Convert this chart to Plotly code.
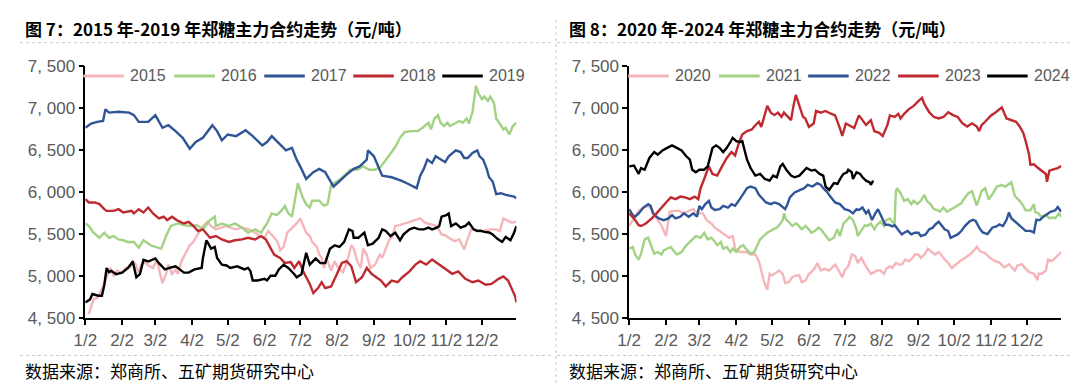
import plotly.graph_objects as go

YEAR = "2021"

# ---------------- Left panel: 2015-2019 ----------------
d2015 = ["01-05","01-07","01-09","01-12","01-14","01-17","01-19","01-21","01-23","01-26","01-29","02-02","02-05","02-09","02-11","02-13","02-16","02-18","02-21","02-24","02-28","03-03","03-05","03-08","03-11","03-13","03-16","03-19","03-21","03-24","03-28","03-31","04-03","04-05","04-08","04-11","04-15","04-18","04-22","04-26","04-30","05-04","05-09","05-14","05-20","05-25","05-29","06-02","06-05","06-09","06-13","06-15","06-18","06-21","06-25","06-29","07-02","07-04","07-07","07-10","07-12","07-16","07-18","07-20","07-22","07-24","07-28","07-31","08-03","08-07","08-10","08-12","08-14","08-16","08-19","08-22","08-24","08-27","08-30","09-03","09-07","09-09","09-12","09-15","09-17","09-20","09-24","09-28","10-02","10-06","10-11","10-15","10-20","10-25","10-29","11-01","11-05","11-09","11-13","11-17","11-20","11-23","11-27","12-01","12-05","12-09","12-14","12-17","12-20","12-24","12-27","12-31"]
v2015 = [4550,4650,4730,4740,4790,4880,4950,5030,5100,5010,5070,5040,5100,5110,5180,5150,5040,5140,5170,5130,5100,5200,5080,4920,5030,5140,5030,5080,5030,5180,5290,5370,5410,5460,5520,5600,5650,5600,5560,5580,5600,5580,5560,5580,5560,5520,5480,5460,5540,5480,5410,5310,5350,5520,5580,5630,5690,5630,5520,5480,5410,5350,5260,5220,5100,5220,5070,5180,5100,5050,5160,5260,5370,5330,5180,5100,5330,5260,5100,5140,5260,5220,5330,5440,5460,5600,5610,5630,5650,5670,5690,5640,5620,5600,5500,5490,5450,5420,5440,5320,5450,5560,5560,5530,5550,5560,5560,5540,5690,5660,5640,5650]

d2016 = ["01-02","01-05","01-09","01-14","01-18","01-22","01-26","01-30","02-03","02-07","02-12","02-16","02-20","02-26","03-02","03-07","03-11","03-15","03-21","03-26","04-01","04-06","04-11","04-17","04-21","04-22","04-27","05-03","05-08","05-14","05-19","05-25","05-30","06-04","06-08","06-12","06-16","06-19","06-22","06-25","06-30","07-04","07-07","07-10","07-12","07-18","07-22","07-25","07-28","08-03","08-08","08-13","08-19","08-24","08-29","09-03","09-08","09-12","09-16","09-20","09-24","09-28","10-04","10-09","10-13","10-18","10-20","10-23","10-26","10-28","10-31","11-03","11-05","11-08","11-11","11-13","11-16","11-19","11-21","11-24","11-27","11-29","12-02","12-04","12-07","12-09","12-12","12-14","12-17","12-20","12-22","12-25","12-28","12-31"]
v2016 = [5630,5600,5520,5460,5520,5460,5480,5440,5430,5410,5410,5340,5430,5370,5350,5330,5480,5600,5630,5610,5600,5610,5560,5670,5710,5600,5630,5600,5630,5580,5520,5560,5520,5630,5750,5730,5780,5840,5750,5710,6110,5940,5860,5820,5900,5900,5840,5860,6090,6140,6200,6270,6270,6310,6270,6270,6310,6390,6460,6540,6650,6720,6730,6730,6770,6830,6750,6880,6920,6830,6790,6830,6790,6810,6830,6850,6830,6880,6820,6960,7270,7180,7110,7140,7090,7140,7070,6880,6820,6750,6770,6690,6790,6830]

d2017 = ["01-02","01-07","01-12","01-17","01-19","01-22","01-30","02-08","02-12","02-16","02-24","03-02","03-08","03-13","03-19","03-25","03-31","04-05","04-11","04-15","04-19","04-23","04-27","05-02","05-09","05-17","05-23","05-31","06-04","06-08","06-14","06-20","06-25","06-29","07-03","07-07","07-13","07-18","07-23","07-30","08-03","08-09","08-16","08-21","08-27","08-28","09-02","09-06","09-09","09-17","09-25","10-01","10-08","10-11","10-14","10-17","10-21","10-24","10-27","11-01","11-04","11-07","11-10","11-14","11-17","11-20","11-24","11-28","11-30","12-03","12-06","12-08","12-11","12-14","12-18","12-22","12-26","12-29","12-31"]
v2017 = [6770,6820,6840,6850,6990,6950,6960,6950,6920,6840,6840,6920,6770,6800,6730,6650,6520,6600,6650,6730,6800,6730,6620,6690,6670,6740,6670,6560,6600,6670,6580,6500,6530,6390,6280,6160,6240,6280,6240,6070,6120,6200,6280,6310,6390,6500,6430,6310,6200,6180,6140,6100,6050,6200,6280,6390,6350,6430,6400,6360,6430,6460,6500,6480,6410,6410,6470,6500,6430,6390,6280,6180,6130,5980,5990,5970,5960,5950,5930]

d2018 = ["01-02","01-05","01-10","01-14","01-18","01-20","01-26","01-30","02-03","02-10","02-12","02-16","02-20","02-24","02-28","03-05","03-09","03-12","03-16","03-20","03-26","03-30","04-03","04-07","04-11","04-17","04-22","04-27","05-03","05-08","05-14","05-19","05-25","05-30","06-03","06-07","06-10","06-15","06-19","06-24","06-27","07-01","07-05","07-10","07-13","07-17","07-20","07-23","07-28","08-02","08-06","08-10","08-14","08-18","08-23","08-27","08-31","09-04","09-08","09-12","09-17","09-22","09-26","10-02","10-07","10-11","10-16","10-21","10-27","11-01","11-07","11-12","11-18","11-24","11-29","12-05","12-10","12-16","12-20","12-24","12-27","12-30","12-31"]
v2018 = [5920,5880,5880,5860,5800,5780,5780,5800,5760,5780,5750,5800,5760,5820,5750,5690,5710,5670,5710,5670,5630,5650,5600,5540,5560,5460,5480,5440,5410,5430,5440,5460,5440,5480,5440,5330,5260,5220,5160,5170,5100,5180,5045,4910,4800,4860,4930,4860,4880,5030,5160,5180,5120,4930,4990,5100,5030,4990,4950,4880,4950,4930,4990,5060,5140,5180,5140,5200,5140,5080,5030,5060,4970,4930,4950,4900,4910,4970,5000,4950,4860,4760,4690]

d2019 = ["01-02","01-06","01-08","01-13","01-16","01-18","01-20","01-22","01-24","01-28","02-02","02-07","02-11","02-14","02-17","02-20","02-24","03-02","03-05","03-10","03-14","03-19","03-21","03-26","03-30","04-04","04-10","04-11","04-14","04-18","04-21","04-23","04-27","05-01","05-04","05-10","05-16","05-19","05-21","05-23","05-27","06-02","06-04","06-07","06-11","06-14","06-18","06-22","06-27","06-29","07-03","07-05","07-07","07-10","07-15","07-19","07-23","07-27","07-31","08-04","08-08","08-12","08-15","08-16","08-20","08-25","08-28","09-01","09-04","09-06","09-09","09-12","09-16","09-20","09-24","09-27","10-02","10-06","10-10","10-14","10-18","10-21","10-25","10-27","10-29","11-02","11-04","11-06","11-10","11-14","11-18","11-21","11-25","11-28","12-01","12-04","12-08","12-11","12-15","12-19","12-22","12-26","12-29","12-31"]
v2019 = [4690,4725,4790,4770,4770,4895,5100,5050,5064,5026,5045,5100,5177,4990,5026,5196,5177,5214,5158,5083,5101,5120,5101,5045,5045,5083,5101,5214,5430,5330,5350,5220,5140,5130,5101,5120,5083,5101,5064,4951,4951,4970,4951,5008,5008,5083,5139,5101,5026,4989,5026,5139,5280,5139,5214,5158,5158,5330,5370,5350,5410,5560,5540,5460,5460,5520,5370,5390,5430,5460,5560,5540,5480,5520,5430,5500,5560,5580,5560,5560,5580,5560,5580,5600,5711,5730,5749,5598,5630,5580,5600,5640,5560,5540,5545,5530,5523,5500,5447,5410,5470,5430,5520,5598]

# ---------------- Right panel: 2020-2024 ----------------
d2020 = ["01-02","01-06","01-10","01-14","01-18","01-21","01-25","01-29","02-02","02-05","02-09","02-13","02-17","02-21","02-25","03-01","03-05","03-08","03-12","03-15","03-19","03-23","03-27","03-30","04-01","04-05","04-10","04-14","04-18","04-21","04-23","04-25","04-28","04-30","05-02","05-06","05-08","05-11","05-13","05-16","05-19","05-22","05-25","05-27","05-30","06-02","06-04","06-07","06-09","06-12","06-15","06-19","06-24","06-27","06-30","07-02","07-05","07-08","07-11","07-13","07-16","07-19","07-21","07-24","07-27","07-29","08-01","08-04","08-06","08-09","08-11","08-14","08-17","08-19","08-22","08-25","08-28","08-30","09-02","09-04","09-07","09-10","09-13","09-16","09-19","09-21","09-24","09-27","09-30","10-03","10-07","10-11","10-15","10-19","10-21","10-24","10-28","11-01","11-05","11-09","11-13","11-17","11-22","11-24","11-28","11-30","12-04","12-08","12-11","12-12","12-15","12-18","12-20","12-23","12-26","12-28","12-31"]
v2020 = [5600,5690,5780,5820,5840,5800,5690,5610,5480,5770,5780,5780,5750,5780,5800,5750,5750,5670,5630,5580,5540,5500,5460,5480,5330,5290,5290,5260,5260,5180,5070,4950,4840,5030,5010,5050,5070,5030,4920,4930,4990,5010,5010,4930,4950,5030,5050,5100,5160,5070,5090,5070,5140,5070,4990,5070,5120,5260,5240,5160,5220,5140,5090,5030,5050,5070,5070,5030,5090,5120,5100,5160,5140,5140,5200,5180,5220,5260,5260,5220,5260,5330,5290,5260,5290,5260,5200,5160,5100,5140,5183,5220,5260,5315,5353,5296,5277,5221,5183,5164,5107,5145,5070,5126,5145,5107,5051,5032,4956,5032,5032,5070,5202,5183,5221,5258,5290]

d2021 = ["01-02","01-05","01-07","01-10","01-12","01-15","01-18","01-21","01-23","01-26","01-29","01-31","02-03","02-06","02-08","02-11","02-15","02-19","02-22","02-24","02-27","03-03","03-06","03-09","03-12","03-14","03-17","03-20","03-22","03-25","03-28","03-30","04-02","04-05","04-08","04-10","04-14","04-17","04-20","04-22","04-25","04-28","05-03","05-06","05-08","05-11","05-12","05-14","05-16","05-19","05-22","05-24","05-27","05-30","06-02","06-04","06-07","06-10","06-12","06-16","06-19","06-23","06-26","06-28","07-01","07-04","07-06","07-09","07-12","07-13","07-16","07-19","07-21","07-24","07-27","07-29","08-01","08-04","08-06","08-09","08-11","08-13","08-14","08-15","08-18","08-21","08-24","08-27","08-29","09-01","09-04","09-07","09-09","09-12","09-15","09-18","09-20","09-23","09-26","09-30","10-04","10-08","10-11","10-14","10-17","10-21","10-25","10-28","10-31","11-03","11-07","11-11","11-14","11-17","11-19","11-22","11-26","11-29","12-01","12-05","12-08","12-09","12-12","12-14","12-18","12-21","12-24","12-26","12-29","12-31"]
v2021 = [5330,5350,5260,5200,5270,5440,5460,5330,5270,5290,5260,5310,5330,5350,5310,5260,5290,5370,5410,5440,5480,5460,5520,5440,5460,5430,5370,5410,5330,5350,5290,5330,5290,5350,5370,5330,5270,5290,5370,5440,5480,5520,5560,5580,5610,5670,5750,5670,5650,5600,5630,5610,5560,5600,5560,5520,5540,5580,5560,5480,5430,5460,5560,5480,5630,5670,5710,5670,5560,5480,5540,5610,5600,5630,5560,5610,5650,5600,5670,5690,5650,5630,6010,6050,5990,5900,5920,5860,5900,5860,5900,5970,5900,5860,5800,5790,5770,5820,5770,5800,5840,5870,5937,5990,6013,5843,6013,6050,5918,5975,6069,6088,6070,6100,6120,5956,5899,5843,5786,5786,5862,5768,5749,5711,5730,5693,5700,5693,5749,5711]

d2022 = ["01-02","01-05","01-07","01-10","01-14","01-18","01-20","01-22","01-25","01-27","01-31","02-04","02-07","02-10","02-14","02-17","02-21","02-25","02-28","03-02","03-04","03-07","03-10","03-12","03-15","03-19","03-22","03-26","03-29","04-01","04-04","04-07","04-11","04-14","04-18","04-21","04-23","04-27","05-01","05-04","05-08","05-12","05-13","05-15","05-17","05-21","05-25","05-29","06-01","06-05","06-09","06-12","06-14","06-17","06-20","06-24","06-28","07-02","07-06","07-09","07-12","07-14","07-17","07-20","07-22","07-25","07-27","07-30","08-02","08-05","08-08","08-11","08-13","08-16","08-19","08-21","08-24","08-27","08-30","09-02","09-04","09-08","09-11","09-14","09-16","09-19","09-21","09-24","09-27","09-29","10-02","10-05","10-08","10-11","10-15","10-18","10-20","10-23","10-26","10-30","11-03","11-07","11-09","11-12","11-15","11-17","11-19","11-22","11-25","11-29","12-01","12-05","12-08","12-10","12-13","12-16","12-20","12-22","12-26","12-28","12-31"]
v2022 = [5800,5730,5710,5750,5820,5860,5840,5750,5710,5690,5670,5690,5730,5690,5710,5750,5710,5750,5710,5840,5800,5860,5900,5820,5790,5800,5840,5820,5860,5840,5900,5970,6050,6070,6050,5970,5940,5880,5860,5880,5860,5820,5800,5860,5940,6000,6030,6050,6090,6070,6110,6090,6050,6010,5950,5880,5860,5800,5784,5750,5800,5790,5820,5750,5784,5670,5730,5800,5710,5615,5615,5595,5610,5560,5500,5520,5540,5500,5520,5520,5480,5500,5560,5580,5615,5650,5615,5560,5540,5460,5480,5500,5540,5598,5655,5674,5660,5580,5523,5504,5580,5598,5620,5600,5674,5760,5693,5655,5617,5560,5542,5542,5523,5674,5670,5711,5749,5768,5787,5825,5768]

d2023 = ["01-02","01-06","01-10","01-12","01-16","01-21","01-25","01-29","02-02","02-06","02-10","02-14","02-18","02-22","02-26","03-01","03-03","03-06","03-10","03-13","03-17","03-21","03-25","03-29","04-01","04-04","04-07","04-11","04-15","04-18","04-21","04-23","04-26","04-28","05-01","05-04","05-07","05-10","05-12","05-15","05-18","05-20","05-22","05-25","05-28","05-30","06-02","06-06","06-08","06-12","06-16","06-20","06-24","06-28","06-30","07-03","07-07","07-10","07-14","07-16","07-20","07-24","07-27","07-31","08-03","08-07","08-09","08-13","08-16","08-18","08-21","08-25","08-29","09-02","09-05","09-07","09-11","09-15","09-19","09-23","09-27","10-01","10-05","10-09","10-13","10-17","10-21","10-23","10-25","10-28","10-31","11-02","11-06","11-09","11-11","11-15","11-19","11-23","11-26","11-29","12-01","12-04","12-05","12-08","12-11","12-15","12-18","12-19","12-21","12-25","12-28","12-31"]
v2023 = [5750,5690,5610,5600,5630,5690,5750,5820,5880,5940,5920,5950,5940,5920,5950,5920,6050,6160,6310,6220,6200,6310,6410,6480,6440,6580,6690,6730,6750,6800,6840,6780,6920,7030,6950,6920,6950,6900,6950,6900,6860,7030,7160,7030,6900,6880,6780,6820,6970,6950,6970,6940,6917,6766,6672,6820,6785,6766,6917,6880,6804,6860,6728,6710,6672,6804,6917,6900,6936,6880,6936,6992,7030,7087,7125,7050,6955,6898,6880,6898,6955,6920,6898,6822,6785,6822,6785,6730,6800,6841,6880,6917,6955,6992,7013,6880,6860,6841,6785,6710,6615,6445,6330,6334,6296,6258,6220,6126,6258,6277,6290,6315]

d2024 = ["01-02","01-06","01-08","01-10","01-12","01-15","01-19","01-23","01-26","01-30","02-03","02-07","02-11","02-15","02-19","02-22","02-24","02-27","03-02","03-06","03-09","03-11","03-13","03-16","03-19","03-22","03-25","03-28","03-30","04-02","04-05","04-07","04-09","04-11","04-14","04-18","04-22","04-26","04-30","05-03","05-06","05-09","05-11","05-14","05-18","05-21","05-25","05-28","05-31","06-04","06-07","06-11","06-14","06-16","06-19","06-23","06-26","06-29","07-01","07-04","07-05","07-08","07-09","07-12","07-15","07-17","07-20","07-23","07-24","07-26"]
v2024 = [6310,6320,6270,6220,6290,6270,6410,6480,6450,6500,6530,6560,6530,6500,6430,6390,6270,6240,6270,6270,6310,6430,6530,6560,6530,6480,6530,6600,6650,6610,6600,6610,6500,6390,6290,6200,6220,6160,6140,6200,6180,6310,6340,6270,6200,6180,6200,6240,6290,6260,6270,6220,6200,6070,6030,6110,6100,6180,6220,6240,6270,6240,6160,6240,6220,6180,6140,6120,6090,6140]

# ---------------- Axis labels / legend ----------------
tick_dates = ["01-02","02-02","03-02","04-02","05-02","06-02","07-02","08-02","09-02","10-02","11-02","12-02"]
tick_labels = ["1/2","2/2","3/2","4/2","5/2","6/2","7/2","8/2","9/2","10/2","11/2","12/2"]
y_ticks = [4500, 5000, 5500, 6000, 6500, 7000, 7500]
y_labels = ["4, 500", "5, 000", "5, 500", "6, 000", "6, 500", "7, 000", "7, 500"]

left_names = ["2015", "2016", "2017", "2018", "2019"]
right_names = ["2020", "2021", "2022", "2023", "2024"]
colors = ["#F4B6BA", "#A2D283", "#2F5597", "#BE2A30", "#000000"]

title_left = "图 7：2015 年-2019 年郑糖主力合约走势（元/吨）"
title_right = "图 8：2020 年-2024 年郑糖主力合约走势（元/吨）"
source_text = "数据来源：郑商所、五矿期货研究中心"

W, H = 1080, 385


def dt(lst):
    return [f"{YEAR}-{s}" for s in lst]


left_series = [(d2015, v2015), (d2016, v2016), (d2017, v2017), (d2018, v2018), (d2019, v2019)]
right_series = [(d2020, v2020), (d2021, v2021), (d2022, v2022), (d2023, v2023), (d2024, v2024)]

fig = go.Figure()
for (dd, vv), name, c in zip(left_series, left_names, colors):
    fig.add_trace(go.Scatter(x=dt(dd), y=vv, name=name, mode="lines",
                             line=dict(color=c, width=2.4), xaxis="x", yaxis="y",
                             showlegend=False, hoverinfo="skip"))
for (dd, vv), name, c in zip(right_series, right_names, colors):
    fig.add_trace(go.Scatter(x=dt(dd), y=vv, name=name, mode="lines",
                             line=dict(color=c, width=2.4), xaxis="x2", yaxis="y2",
                             showlegend=False, hoverinfo="skip"))

tickfont = dict(family="Liberation Sans, Noto Sans CJK SC, sans-serif", size=17, color="#595959")
xcommon = dict(type="date", range=[f"{YEAR}-01-02", f"{YEAR}-12-31"],
               tickmode="array", tickvals=dt(tick_dates), ticktext=tick_labels,
               showline=True, linecolor="black", linewidth=1.5,
               ticks="outside", ticklen=5, tickwidth=1.5, tickcolor="black",
               showgrid=False, zeroline=False, tickfont=tickfont, fixedrange=True)
ycommon = dict(range=[4500, 7500], tickmode="array", tickvals=y_ticks, ticktext=y_labels,
               showline=True, linecolor="black", linewidth=1.5,
               ticks="outside", ticklen=5, tickwidth=1.5, tickcolor="black",
               showgrid=False, zeroline=False, tickfont=tickfont, fixedrange=True)

ydom = [1 - 317 / H, 1 - 52 / H]
fig.update_layout(
    width=W, height=H,
    margin=dict(l=0, r=0, t=0, b=0),
    paper_bgcolor="white", plot_bgcolor="white",
    xaxis=dict(domain=[66 / W, 502 / W], anchor="y", **xcommon),
    yaxis=dict(domain=ydom, anchor="x", **ycommon),
    xaxis2=dict(domain=[616 / W, 1053 / W], anchor="y2", **xcommon),
    yaxis2=dict(domain=ydom, anchor="x2", **ycommon),
    showlegend=False,
)

shapes = []
annotations = []
sep = dict(color="#C8C8C8", width=1, dash="dot")
shapes.append(dict(type="line", xref="paper", yref="paper", x0=0, x1=540 / W, y0=1 - 27 / H, y1=1 - 27 / H, line=sep))
shapes.append(dict(type="line", xref="paper", yref="paper", x0=543 / W, x1=1, y0=1 - 27 / H, y1=1 - 27 / H, line=sep))
shapes.append(dict(type="line", xref="paper", yref="paper", x0=0, x1=540 / W, y0=1 - 356 / H, y1=1 - 356 / H, line=sep))
shapes.append(dict(type="line", xref="paper", yref="paper", x0=543 / W, x1=1, y0=1 - 356 / H, y1=1 - 356 / H, line=sep))
shapes.append(dict(type="line", xref="paper", yref="paper", x0=542 / W, x1=542 / W, y0=0, y1=1, line=sep))

# custom legends
legend_y = 1 - 62 / H
left_starts = [64, 156, 247, 337, 427]
right_starts = [615, 707, 797, 888, 978]
for starts, names in ((left_starts, left_names), (right_starts, right_names)):
    for s, n, c in zip(starts, names, colors):
        shapes.append(dict(type="line", xref="paper", yref="paper", x0=s / W, x1=(s + 41) / W,
                           y0=legend_y, y1=legend_y, line=dict(color=c, width=3)))
        annotations.append(dict(text=n, xref="paper", yref="paper", x=(s + 45) / W, y=legend_y,
                                xanchor="left", yanchor="middle", showarrow=False,
                                font=dict(family="Liberation Sans, sans-serif", size=16, color="#595959")))

title_font = dict(family="Noto Sans CJK SC, sans-serif", size=17, color="black")
annotations.append(dict(text=f"<b>{title_left}</b>", xref="paper", yref="paper", x=3 / W, y=1 - 12 / H,
                        xanchor="left", yanchor="middle", showarrow=False, font=title_font))
annotations.append(dict(text=f"<b>{title_right}</b>", xref="paper", yref="paper", x=553 / W, y=1 - 12 / H,
                        xanchor="left", yanchor="middle", showarrow=False, font=title_font))
src_font = dict(family="Noto Sans CJK SC, sans-serif", size=17, color="black")
annotations.append(dict(text=source_text, xref="paper", yref="paper", x=3 / W, y=1 - 372 / H,
                        xanchor="left", yanchor="middle", showarrow=False, font=src_font))
annotations.append(dict(text=source_text, xref="paper", yref="paper", x=553 / W, y=1 - 372 / H,
                        xanchor="left", yanchor="middle", showarrow=False, font=src_font))

fig.update_layout(shapes=shapes, annotations=annotations)
fig.write_html("out.html", config={"displayModeBar": False})
